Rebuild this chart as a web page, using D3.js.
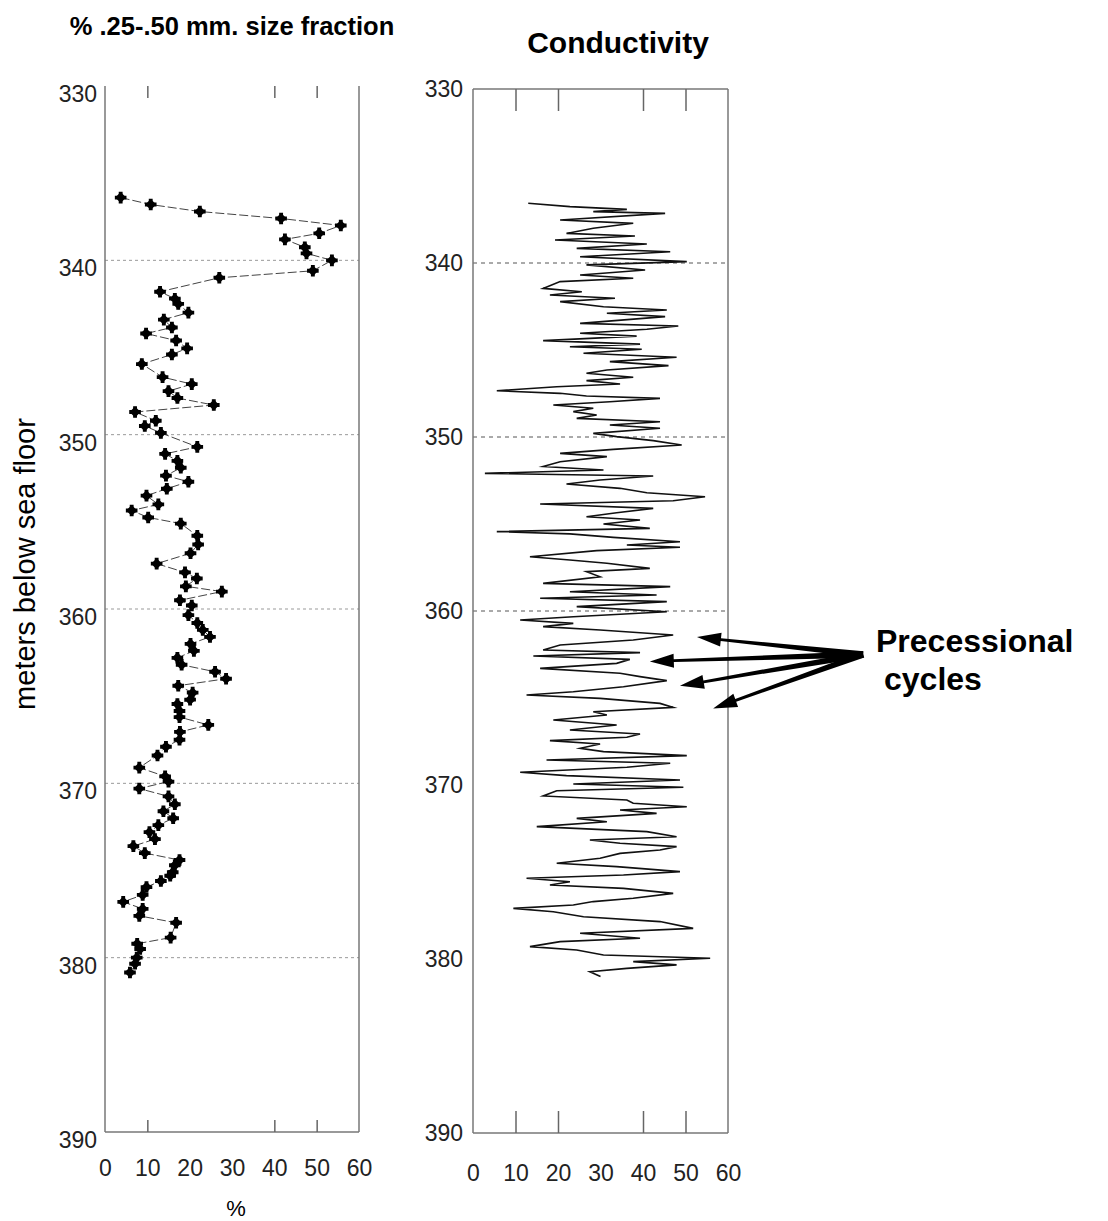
<!DOCTYPE html>
<html>
<head>
<meta charset="utf-8">
<script src="https://cdn.jsdelivr.net/npm/d3@7.9.0/dist/d3.min.js"></script>
<style>
  html, body { margin: 0; padding: 0; background: #fff; }
  svg { display: block; font-family: "Liberation Sans", Arial, Helvetica, sans-serif; }
  .tick text { fill: #222; }
</style>
</head>
<body>
<div id="chart"></div>
<script>
// % .25-.50 mm size fraction
const sizeDepth = [
  336.4, 336.8, 337.2, 337.6, 338.0, 338.45, 338.8, 339.25, 339.6, 340.0,
  340.6, 341.0, 341.8, 342.2, 342.5, 343.0, 343.4, 343.85, 344.2, 344.6,
  345.05, 345.4, 345.95, 346.7, 347.1, 347.5, 347.9, 348.3, 348.7, 349.2,
  349.5, 349.9, 350.7, 351.1, 351.5, 351.9, 352.35, 352.7, 353.1, 353.5,
  354.0, 354.35, 354.75, 355.1, 355.8, 356.3, 356.8, 357.4, 357.9, 358.25,
  358.7, 359.0, 359.5, 359.8, 360.35, 360.8, 361.2, 361.6, 362.0, 362.4,
  362.8, 363.2, 363.6, 364.0, 364.4, 364.8, 365.2, 365.45, 365.85, 366.2,
  366.65, 367.05, 367.5, 367.9, 368.4, 369.1, 369.6, 369.9, 370.3, 370.75,
  371.2, 371.6, 372.0, 372.4, 372.8, 373.2, 373.6, 374.0, 374.4, 374.7,
  375.1, 375.3, 375.6, 375.95, 376.4, 376.8, 377.2, 377.6, 378.0, 378.85,
  379.2, 379.5, 380.0, 380.35, 380.85
];
const sizePct = [
  3.7, 10.8, 22.4, 41.6, 55.7, 50.6, 42.5, 47.2, 47.6, 53.6,
  49.1, 27.0, 13.0, 16.5, 17.3, 19.7, 13.9, 15.8, 9.7, 16.8,
  19.4, 15.8, 8.7, 13.6, 20.5, 15.0, 17.1, 25.7, 7.1, 12.0,
  9.4, 13.2, 21.8, 14.2, 17.1, 17.9, 14.4, 19.7, 14.6, 9.8,
  12.6, 6.3, 10.2, 17.9, 21.8, 22.0, 20.2, 12.2, 18.9, 21.7,
  19.1, 27.6, 17.7, 20.5, 19.7, 21.8, 23.1, 24.8, 20.2, 21.0,
  17.1, 18.1, 26.0, 28.6, 17.3, 20.7, 20.1, 17.1, 17.6, 17.6,
  24.4, 17.7, 17.6, 14.4, 12.4, 8.1, 14.2, 15.0, 8.1, 15.0,
  16.5, 13.8, 16.1, 12.6, 10.5, 11.8, 6.7, 9.4, 17.6, 16.5,
  16.0, 15.4, 13.2, 9.8, 8.9, 4.3, 8.9, 8.1, 16.8, 15.5,
  7.6, 8.3, 7.5, 7.1, 5.9
];

// conductivity trace
const condDepth = [
  336.57, 336.76, 336.92, 337.05, 337.15, 337.53, 337.72, 338.0, 338.3, 338.45,
  338.68, 338.91, 339.16, 339.35, 339.64, 339.92, 340.11, 340.4, 340.69, 340.88,
  341.07, 341.46, 341.65, 341.84, 342.03, 342.22, 342.51, 342.7, 342.89, 343.08,
  343.47, 343.62, 343.81, 344.04, 344.2, 344.46, 344.66, 344.81, 344.96, 345.19,
  345.42, 345.67, 345.9, 346.15, 346.34, 346.57, 346.76, 346.95, 347.11, 347.34,
  347.49, 347.64, 347.78, 347.97, 348.16, 348.35, 348.54, 348.74, 348.93, 349.12,
  349.31, 349.5, 349.79, 349.98, 350.21, 350.46, 350.71, 350.94, 351.13, 351.42,
  351.7, 351.9, 352.09, 352.24, 352.47, 352.7, 352.95, 353.2, 353.43, 353.66,
  353.85, 354.1, 354.35, 354.58, 354.77, 355.0, 355.25, 355.44, 355.57, 355.77,
  356.02, 356.21, 356.34, 356.53, 356.88, 357.07, 357.26, 357.55, 357.74, 358.03,
  358.41, 358.6, 358.89, 359.08, 359.27, 359.46, 359.75, 360.04, 360.33, 360.52,
  360.71, 360.9, 361.09, 361.38, 361.67, 361.95, 362.24, 362.39, 362.59, 362.78,
  363.01, 363.3, 363.58, 363.77, 364.0, 364.35, 364.64, 364.83, 365.02, 365.31,
  365.54, 365.79, 365.98, 366.26, 366.55, 366.84, 367.07, 367.26, 367.45, 367.64,
  367.89, 368.08, 368.31, 368.56, 368.75, 368.98, 369.27, 369.46, 369.71, 369.94,
  370.13, 370.33, 370.63, 370.86, 371.05, 371.25, 371.44, 371.63, 371.92, 372.11,
  372.39, 372.68, 372.97, 373.16, 373.35, 373.54, 373.74, 373.93, 374.21, 374.5,
  374.69, 374.98, 375.17, 375.36, 375.56, 375.75, 375.94, 376.23, 376.51, 376.7,
  376.9, 377.09, 377.28, 377.57, 377.85, 378.24, 378.52, 378.81, 379.0, 379.29,
  379.48, 379.77, 379.96, 380.15, 380.34, 380.54, 380.73, 381.0
];
const condValue = [
  13.0, 22.8, 36.2, 28.3, 45.2, 20.5, 37.7, 28.3, 22.0, 38.1,
  19.3, 40.9, 24.4, 46.4, 25.2, 50.3, 26.7, 40.5, 25.2, 37.7,
  20.5, 16.5, 25.6, 18.1, 33.4, 20.5, 30.7, 45.6, 31.5, 45.2,
  25.2, 48.3, 40.9, 25.2, 38.5, 16.5, 39.3, 22.8, 39.7, 26.0,
  47.9, 32.2, 46.0, 31.5, 26.7, 37.7, 26.7, 34.6, 19.7, 5.6,
  20.5, 26.7, 44.0, 32.2, 18.9, 28.3, 23.6, 29.1, 24.4, 44.0,
  32.2, 44.0, 28.3, 33.8, 42.4, 49.1, 33.0, 20.5, 31.5, 20.5,
  16.5, 30.7, 2.8, 42.4, 29.9, 22.0, 34.6, 40.9, 54.6, 47.1,
  15.8, 42.4, 33.8, 26.7, 39.3, 30.7, 41.6, 5.6, 22.8, 33.0,
  48.7, 36.2, 48.7, 29.1, 13.4, 22.8, 31.5, 41.6, 26.7, 29.9,
  16.5, 46.4, 22.8, 43.2, 15.8, 45.6, 24.4, 45.6, 23.6, 11.1,
  23.6, 16.5, 29.9, 47.1, 37.7, 20.5, 16.5, 39.3, 14.2, 36.9,
  33.8, 15.8, 34.6, 39.3, 45.6, 35.4, 23.6, 12.6, 29.9, 44.0,
  47.1, 28.3, 31.5, 18.9, 33.8, 22.8, 39.3, 36.2, 18.1, 29.9,
  25.2, 30.7, 50.3, 17.3, 46.4, 36.2, 11.1, 22.0, 48.7, 23.6,
  49.5, 19.7, 16.5, 36.2, 37.7, 50.3, 34.6, 43.2, 24.4, 31.5,
  15.0, 40.9, 47.9, 27.5, 34.6, 47.9, 44.0, 34.6, 29.9, 19.7,
  33.8, 48.7, 35.4, 12.6, 22.8, 18.1, 35.4, 47.1, 37.7, 28.3,
  23.6, 9.5, 18.9, 26.0, 44.0, 51.8, 25.2, 39.3, 20.5, 13.4,
  24.4, 30.7, 55.8, 37.7, 47.9, 36.2, 27.5, 30.0
];

const depthTicks = [330, 340, 350, 360, 370, 380, 390];
const pctTicks = [0, 10, 20, 30, 40, 50, 60];
const leftGrid = [340, 350, 360, 370, 380];
const rightGrid = [340, 350, 360];
const leftMinorTicks = [10, 40, 50];
const rightMinorTicks = [10, 20, 40, 50];

// "Precessional cycles" arrows: [depth, conductivity] of each head, and the common tail
const arrowHeads = [[361.5, 52.7], [362.9, 41.6], [364.3, 48.7], [365.6, 56.5]];
const arrowTail = [362.5, 91.8];

const width = 1108;
const height = 1221;

const svg = d3.select('#chart')
  .append('svg')
  .attr('width', width)
  .attr('height', height);

svg.append('rect').attr('width', width).attr('height', height).attr('fill', '#fff');

const xL = d3.scaleLinear().domain([0, 60]).range([105, 359]);
const yL = d3.scaleLinear().domain([330, 390]).range([86, 1132]);
const xR = d3.scaleLinear().domain([0, 60]).range([473, 728]);
const yR = d3.scaleLinear().domain([330, 390]).range([89, 1133]);

function drawFrame(x, y, withTop) {
  const g = svg.append('g').attr('fill', 'none').attr('stroke', '#777').attr('stroke-width', 1.5);
  const [x0, x1] = x.range();
  const [y0, y1] = y.range();
  g.append('line').attr('x1', x0).attr('x2', x0).attr('y1', y0).attr('y2', y1);
  g.append('line').attr('x1', x1).attr('x2', x1).attr('y1', y0).attr('y2', y1);
  g.append('line').attr('x1', x0).attr('x2', x1).attr('y1', y1).attr('y2', y1);
  if (withTop) g.append('line').attr('x1', x0).attr('x2', x1).attr('y1', y0).attr('y2', y0);
}

function drawGrid(x, y, depths, color, dash) {
  svg.append('g')
    .selectAll('line')
    .data(depths)
    .join('line')
    .attr('x1', x.range()[0])
    .attr('x2', x.range()[1])
    .attr('y1', d => y(d))
    .attr('y2', d => y(d))
    .attr('stroke', color)
    .attr('stroke-width', 1)
    .attr('stroke-dasharray', dash);
}

function drawTicks(x, y, values, len) {
  const [y0, y1] = y.range();
  svg.append('g')
    .attr('transform', `translate(0, ${y0})`)
    .call(d3.axisTop(x).tickValues(values).tickSize(-len).tickFormat(''))
    .call(g => g.select('.domain').remove())
    .call(g => g.selectAll('line').attr('stroke', '#666').attr('stroke-width', 1.5));
  svg.append('g')
    .attr('transform', `translate(0, ${y1})`)
    .call(d3.axisBottom(x).tickValues(values).tickSize(-len).tickFormat(''))
    .call(g => g.select('.domain').remove())
    .call(g => g.selectAll('line').attr('stroke', '#666').attr('stroke-width', 1.5));
}

function drawLabels(x, y, padY, padX, shiftY) {
  svg.append('g')
    .attr('transform', `translate(${x.range()[0]}, ${shiftY})`)
    .call(d3.axisLeft(y).tickValues(depthTicks).tickSize(0).tickPadding(padX).tickFormat(d3.format('d')))
    .call(g => g.select('.domain').remove())
    .selectAll('text').attr('font-size', 23);
  svg.append('g')
    .attr('transform', `translate(0, ${y.range()[1]})`)
    .call(d3.axisBottom(x).tickValues(pctTicks).tickSize(0).tickPadding(padY).tickFormat(d3.format('d')))
    .call(g => g.select('.domain').remove())
    .selectAll('text').attr('font-size', 23);
}

// ---- left panel: size fraction ----
drawGrid(xL, yL, leftGrid, '#999', '3,3');
drawFrame(xL, yL, false);
drawTicks(xL, yL, leftMinorTicks, 12);
drawLabels(xL, yL, 28, 8, 8);

const sizeData = sizeDepth.map((d, i) => ({ depth: d, pct: sizePct[i] }));

svg.append('path')
  .datum(sizeData)
  .attr('fill', 'none')
  .attr('stroke', '#444')
  .attr('stroke-width', 1)
  .attr('stroke-dasharray', '9,3')
  .attr('d', d3.line().x(d => xL(d.pct)).y(d => yL(d.depth)));

const markers = svg.append('g').attr('fill', '#000');
markers.selectAll('path.dia')
  .data(sizeData)
  .join('path')
  .attr('class', 'dia')
  .attr('transform', d => `translate(${xL(d.pct)}, ${yL(d.depth)}) rotate(45)`)
  .attr('d', d3.symbol(d3.symbolSquare, 60));
markers.selectAll('path.crs')
  .data(sizeData)
  .join('path')
  .attr('class', 'crs')
  .attr('transform', d => `translate(${xL(d.pct)}, ${yL(d.depth)})`)
  .attr('d', d3.symbol(d3.symbolCross, 75));

svg.append('text')
  .attr('x', 232).attr('y', 35)
  .attr('text-anchor', 'middle')
  .attr('font-size', 25.5).attr('font-weight', 'bold')
  .text('% .25-.50 mm. size fraction');

svg.append('text')
  .attr('x', 236).attr('y', 1216)
  .attr('text-anchor', 'middle')
  .attr('font-size', 22)
  .text('%');

svg.append('text')
  .attr('transform', 'translate(35, 564) rotate(-90)')
  .attr('text-anchor', 'middle')
  .attr('font-size', 29)
  .text('meters below sea floor');

// ---- right panel: conductivity ----
drawGrid(xR, yR, rightGrid, '#555', '4,4');
drawFrame(xR, yR, true);
drawTicks(xR, yR, rightMinorTicks, 22);
drawLabels(xR, yR, 32, 10, 0);

const condData = condDepth.map((d, i) => ({ depth: d, value: condValue[i] }));

svg.append('path')
  .datum(condData)
  .attr('fill', 'none')
  .attr('stroke', '#111')
  .attr('stroke-width', 1.6)
  .attr('stroke-linejoin', 'miter')
  .attr('stroke-miterlimit', 6)
  .attr('d', d3.line().x(d => xR(d.value)).y(d => yR(d.depth)));

svg.append('text')
  .attr('x', 618).attr('y', 53)
  .attr('text-anchor', 'middle')
  .attr('font-size', 30).attr('font-weight', 'bold')
  .text('Conductivity');

// ---- annotation arrows ----
function arrowPath(tx, ty, hx, hy) {
  const dx = hx - tx, dy = hy - ty;
  const len = Math.hypot(dx, dy);
  const ux = dx / len, uy = dy / len;
  const nx = -uy, ny = ux;
  const headLen = 24, headW = 7, w0 = 3.2, w1 = 1.4;
  const bx = hx - ux * headLen, by = hy - uy * headLen;
  const pts = [
    [tx + nx * w0, ty + ny * w0],
    [bx + nx * w1, by + ny * w1],
    [bx + nx * headW, by + ny * headW],
    [hx, hy],
    [bx - nx * headW, by - ny * headW],
    [bx - nx * w1, by - ny * w1],
    [tx - nx * w0, ty - ny * w0]
  ];
  return 'M' + pts.map(p => p.join(',')).join('L') + 'Z';
}

svg.append('g')
  .selectAll('path')
  .data(arrowHeads)
  .join('path')
  .attr('fill', '#000')
  .attr('d', d => arrowPath(xR(arrowTail[1]), yR(arrowTail[0]), xR(d[1]), yR(d[0])));

svg.append('text')
  .attr('x', 876).attr('y', 652)
  .attr('font-size', 32).attr('font-weight', 'bold')
  .text('Precessional');
svg.append('text')
  .attr('x', 884).attr('y', 690)
  .attr('font-size', 32).attr('font-weight', 'bold')
  .text('cycles');
</script>
</body>
</html>
